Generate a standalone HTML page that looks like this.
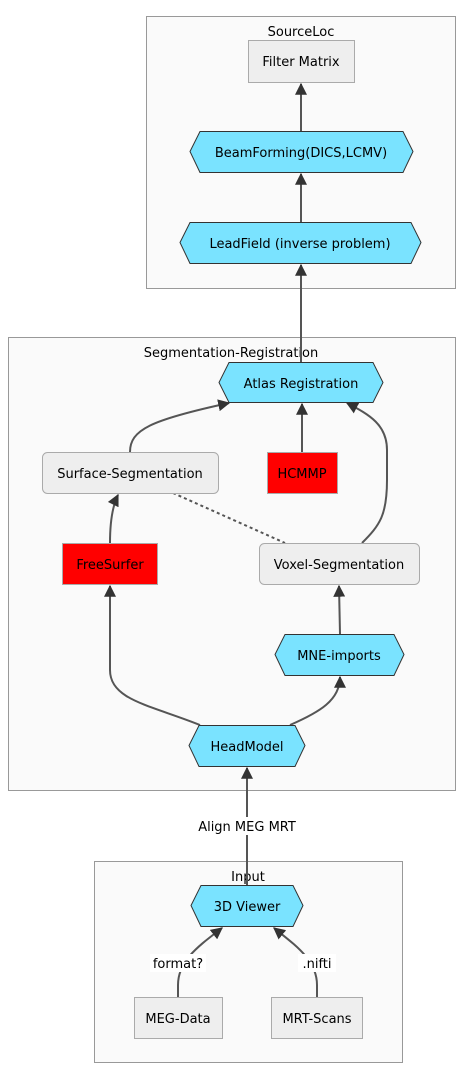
<!DOCTYPE html>
<html><head><meta charset="utf-8"><style>
html,body{margin:0;padding:0;background:#fff;}
svg{display:block;font-family:"DejaVu Sans","Liberation Sans",sans-serif;font-size:13px;}
</style></head><body>
<svg width="472" height="1080" viewBox="0 0 472 1080" xmlns="http://www.w3.org/2000/svg">
<defs>
<marker id="a" viewBox="0 0 10 10" refX="9" refY="5" markerWidth="6" markerHeight="6" orient="auto"><path d="M0,0L10,5L0,10z" fill="#333"/></marker>
</defs>
<g fill="#fafafa" stroke="#999" stroke-width="1">
<rect x="146.5" y="16.5" width="309" height="272"/>
<rect x="8.5" y="337.5" width="447" height="453"/>
<rect x="94.5" y="861.5" width="308" height="201"/>
</g>
<g fill="#000" text-anchor="middle">
<text x="301" y="36">SourceLoc</text>
<text x="231" y="357">Segmentation-Registration</text>
<text x="248" y="881">Input</text>
</g>
<g fill="none" stroke="#555" stroke-width="2" marker-end="url(#a)">
<path d="M301,131L301,84"/>
<path d="M301,222L301,174"/>
<path d="M301,362L301,265"/>
<path d="M302,452L302,404"/>
<path d="M130,452C130,430 150,420 229,403"/>
<path d="M362,543C380,525 387,515 387,480L387,450C387,425 370,415 347,403"/>
<path d="M110,543C110,520 113,505 118,495"/>
<path d="M340,634L339,586"/>
<path d="M200,725C150,705 110,700 110,670L110,586"/>
<path d="M290,725C320,712 340,700 340,677"/>
<path d="M247,885L247,768"/>
<path d="M178,997L178,985C178,960 200,945 222,928"/>
<path d="M317,997L317,985C317,960 295,945 274,928"/>
</g>
<path d="M173,493L285,543" stroke="#555" stroke-width="2" stroke-dasharray="3,3" fill="none"/>
<g stroke="#333" stroke-width="1">
<rect x="248.5" y="40.5" width="106" height="42" fill="#eee" stroke="#aaa"/>
<polygon points="190,151.5 200,131.5 403,131.5 413,151.5 403,172.5 200,172.5" fill="#7ae3ff"/>
<polygon points="180,242.5 190,222.5 411,222.5 421,242.5 411,263.5 190,263.5" fill="#7ae3ff"/>
<polygon points="219,382.5 229,362.5 373,362.5 383,382.5 373,402.5 229,402.5" fill="#7ae3ff"/>
<rect x="42.5" y="452.5" width="176" height="41" rx="5" fill="#eee" stroke="#aaa"/>
<rect x="267.5" y="452.5" width="70" height="41" fill="#f00" stroke="#aaa"/>
<rect x="62.5" y="543.5" width="95" height="41" fill="#f00" stroke="#aaa"/>
<rect x="259.5" y="543.5" width="160" height="41" rx="5" fill="#eee" stroke="#aaa"/>
<polygon points="275,654.5 285,634.5 394,634.5 404,654.5 394,675.5 285,675.5" fill="#7ae3ff"/>
<polygon points="189,745.5 199,725.5 295,725.5 305,745.5 295,766.5 199,766.5" fill="#7ae3ff"/>
<polygon points="191,905.5 201,885.5 293,885.5 303,905.5 293,926.5 201,926.5" fill="#7ae3ff"/>
<rect x="134.5" y="997.5" width="88" height="41" fill="#eee" stroke="#aaa"/>
<rect x="271.5" y="997.5" width="91" height="41" fill="#eee" stroke="#aaa"/>
</g>
<g fill="#fff">
<rect x="193" y="817" width="108" height="18"/>
<rect x="150" y="954" width="56" height="18"/>
<rect x="298" y="954" width="38" height="18"/>
</g>
<g fill="#000" text-anchor="middle">
<text x="301" y="66">Filter Matrix</text>
<text x="301" y="157">BeamForming(DICS,LCMV)</text>
<text x="300" y="248">LeadField (inverse problem)</text>
<text x="301" y="388">Atlas Registration</text>
<text x="130" y="478">Surface-Segmentation</text>
<text x="302" y="478">HCMMP</text>
<text x="110" y="569">FreeSurfer</text>
<text x="339" y="569">Voxel-Segmentation</text>
<text x="339" y="660">MNE-imports</text>
<text x="247" y="751">HeadModel</text>
<text x="247" y="831">Align MEG MRT</text>
<text x="247" y="911">3D Viewer</text>
<text x="178" y="968">format?</text>
<text x="317" y="968">.nifti</text>
<text x="178" y="1023">MEG-Data</text>
<text x="317" y="1023">MRT-Scans</text>
</g>
</svg>
</body></html>
